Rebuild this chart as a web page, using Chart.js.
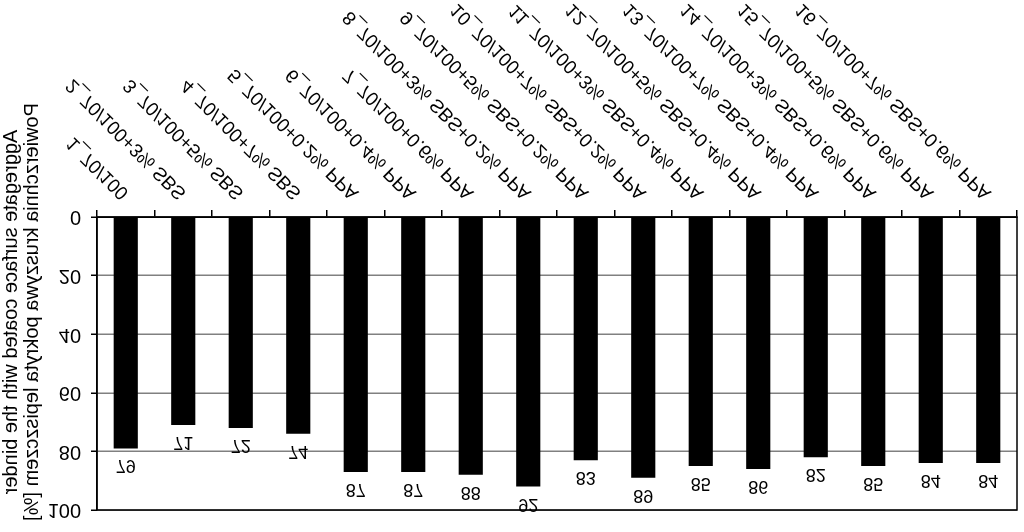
<!DOCTYPE html>
<html>
<head>
<meta charset="utf-8">
<script src="https://cdn.jsdelivr.net/npm/chart.js@4.4.1/dist/chart.umd.min.js"></script>
<style>
  html, body { margin: 0; padding: 0; background: #fff; }
  #wrap { width: 1024px; height: 532px; }
  /* the reference picture is mirrored top to bottom */
  #chart { display: block; transform: scaleY(-1); }
</style>
</head>
<body>
<div id="wrap"><canvas id="chart" width="1024" height="532"></canvas></div>
<script>
const categories = [
    '1_70/100',
    '2_70/100+3% SBS',
    '3_70/100+5% SBS',
    '4_70/100+7% SBS',
    '5_70/100+0.2% PPA',
    '6_70/100+0.4% PPA',
    '7_70/100+0.6% PPA',
    '8_70/100+3% SBS+0.2% PPA',
    '9_70/100+5% SBS+0.2% PPA',
    '10_70/100+7% SBS+0.2% PPA',
    '11_70/100+3% SBS+0.4% PPA',
    '12_70/100+5% SBS+0.4% PPA',
    '13_70/100+7% SBS+0.4% PPA',
    '14_70/100+3% SBS+0.6% PPA',
    '15_70/100+5% SBS+0.6% PPA',
    '16_70/100+7% SBS+0.6% PPA'
];
const coated = [79, 71, 72, 74, 87, 87, 88, 92, 83, 89, 85, 86, 82, 85, 84, 84];
const yTicks = [0, 20, 40, 60, 80, 100];
const titleLines = [
    'Aggregate surface coated with the binder',
    'Powierzchnia kruszywa pokryta lepiszczem [%]'
];

const FONT = '"Liberation Sans", Arial, sans-serif';

// values above the bars
const valueLabels = {
    id: 'valueLabels',
    afterDatasetsDraw(chart) {
        const ctx = chart.ctx;
        const meta = chart.getDatasetMeta(0);
        ctx.save();
        ctx.font = '18px ' + FONT;
        ctx.fillStyle = '#000';
        ctx.textAlign = 'center';
        ctx.textBaseline = 'alphabetic';
        meta.data.forEach((bar, i) => {
            ctx.fillText(String(coated[i]), bar.x, bar.y - 12);
        });
        ctx.restore();
    }
};

// plot border + two line axis title
const frameAndTitle = {
    id: 'frameAndTitle',
    afterDraw(chart) {
        const ctx = chart.ctx;
        const a = chart.chartArea;
        ctx.save();
        ctx.strokeStyle = '#000';
        ctx.lineWidth = 1.5;
        ctx.strokeRect(a.left, a.top, a.right - a.left, a.bottom - a.top);

        ctx.fillStyle = '#000';
        ctx.font = '20px ' + FONT;
        ctx.textAlign = 'center';
        ctx.textBaseline = 'middle';
        const xs = [11, 32];
        titleLines.forEach((t, i) => {
            ctx.save();
            ctx.translate(xs[i], 220);
            ctx.rotate(-Math.PI / 2);
            ctx.fillText(t, 0, 0);
            ctx.restore();
        });
        ctx.restore();
    }
};

new Chart(document.getElementById('chart').getContext('2d'), {
    type: 'bar',
    data: {
        labels: categories,
        datasets: [{
            data: coated,
            backgroundColor: '#000',
            borderWidth: 0,
            categoryPercentage: 1,
            barPercentage: 0.42
        }]
    },
    options: {
        responsive: false,
        animation: false,
        layout: { padding: { top: 17, right: 7, left: 0, bottom: 0 } },
        plugins: {
            legend: { display: false },
            tooltip: { enabled: false }
        },
        scales: {
            x: {
                afterFit: s => { s.height = 217; },
                grid: {
                    offset: true,
                    drawOnChartArea: false,
                    drawTicks: true,
                    tickLength: 7,
                    color: '#000',
                    lineWidth: 1.5
                },
                border: { color: '#000', width: 1.5 },
                ticks: {
                    autoSkip: false,
                    minRotation: 45,
                    maxRotation: 45,
                    padding: 6,
                    color: '#000',
                    font: { family: FONT, size: 19 }
                }
            },
            y: {
                min: 0,
                max: 100,
                afterFit: s => { s.width = 97; },
                afterBuildTicks: s => { s.ticks = yTicks.map(v => ({ value: v })); },
                grid: {
                    color: '#808080',
                    lineWidth: 1.5,
                    tickLength: 6,
                    tickColor: '#000'
                },
                border: { color: '#000', width: 1.5 },
                ticks: {
                    padding: 10,
                    color: '#000',
                    font: { family: FONT, size: 20 }
                }
            }
        }
    },
    plugins: [valueLabels, frameAndTitle]
});
</script>
</body>
</html>
